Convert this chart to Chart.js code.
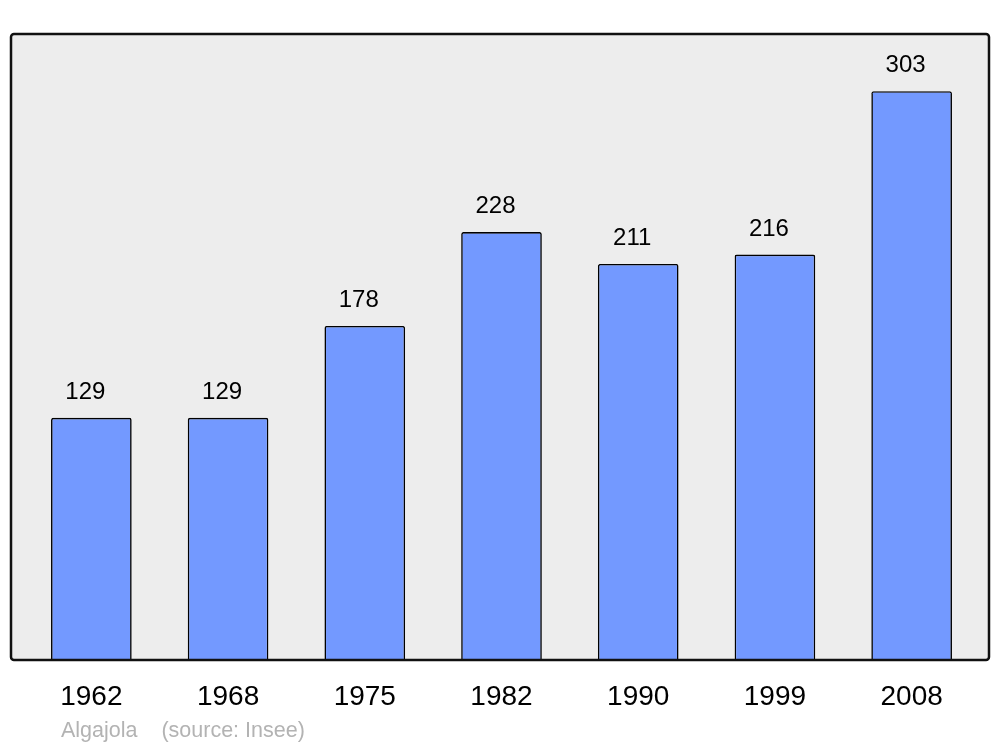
<!DOCTYPE html>
<html>
<head>
<meta charset="utf-8">
<script src="https://cdn.jsdelivr.net/npm/chart.js@4/dist/chart.umd.min.js"></script>
<style>
  body { margin: 0; background: #fff; }
  canvas { display: block; }
</style>
</head>
<body>
<canvas id="pop" width="1000" height="747"></canvas>
<script>
const years = ["1962", "1968", "1975", "1982", "1990", "1999", "2008"];
const population = [129, 129, 178, 228, 211, 216, 303];
const sourceText = "Algajola    (source: Insee)";

const FONT = "'Liberation Sans', Arial, sans-serif";

// frame behind the bars, border drawn on top
const framePlugin = {
  id: "frame",
  beforeDatasetsDraw(chart) {
    const ctx = chart.ctx;
    ctx.save();
    ctx.beginPath();
    ctx.roundRect(11, 34, 978, 626, 3);
    ctx.fillStyle = "#ededed";
    ctx.fill();
    ctx.restore();
  },
  afterDatasetsDraw(chart) {
    const ctx = chart.ctx;
    const meta = chart.getDatasetMeta(0);
    const x = chart.scales.x;
    ctx.save();
    ctx.beginPath();
    ctx.roundRect(11, 34, 978, 626, 3);
    ctx.lineWidth = 2.5;
    ctx.strokeStyle = "#111";
    ctx.stroke();

    ctx.fillStyle = "#000";
    ctx.textAlign = "center";
    ctx.textBaseline = "alphabetic";
    ctx.font = "24px " + FONT;
    meta.data.forEach((bar, i) => {
      ctx.fillText(String(population[i]), bar.x - 6, bar.y - 19);
    });

    ctx.font = "28px " + FONT;
    years.forEach((y, i) => {
      ctx.fillText(y, x.getPixelForValue(i), 705);
    });

    ctx.textAlign = "left";
    ctx.font = "21.5px " + FONT;
    ctx.fillStyle = "#b3b3b3";
    ctx.fillText(sourceText, 61, 737);
    ctx.restore();
  }
};

new Chart(document.getElementById("pop"), {
  type: "bar",
  data: {
    labels: years,
    datasets: [
      {
        data: population,
        backgroundColor: "#7399ff",
        borderColor: "#000",
        borderWidth: 1.6,
        borderSkipped: "bottom",
        borderRadius: { topLeft: 2, topRight: 2 },
        barPercentage: 0.59,
        categoryPercentage: 1,
      },
    ],
  },
  options: {
    responsive: false,
    animation: false,
    layout: { padding: { top: 34, bottom: 87, left: 23, right: 20 } },
    plugins: { legend: { display: false }, tooltip: { enabled: false } },
    scales: {
      x: { display: false },
      y: { display: false, min: 0, max: 333.5 },
    },
  },
  plugins: [framePlugin],
});
</script>
</body>
</html>
